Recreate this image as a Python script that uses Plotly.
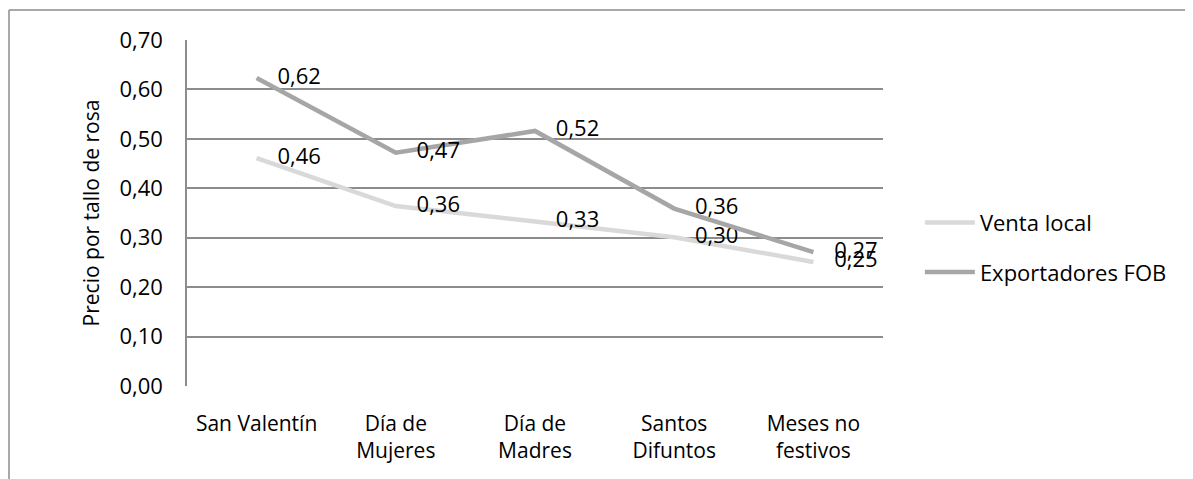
import plotly.graph_objects as go

categories = ["San Valentín", "Día de<br>Mujeres", "Día de<br>Madres", "Santos<br>Difuntos", "Meses no<br>festivos"]
venta_local = [0.461, 0.364, 0.333, 0.301, 0.251]
exportadores_fob = [0.623, 0.472, 0.516, 0.359, 0.271]
y_ticks = [0.0, 0.1, 0.2, 0.3, 0.4, 0.5, 0.6, 0.7]

FONT = "Open Sans"
# page body adds an 8px offset, so the figure is drawn 8px smaller
W, H = 1185, 471
L, R, T, B = 179, 310, 32, 93

fig = go.Figure()

series = [
    ("Venta local", venta_local, "#d9d9d9"),
    ("Exportadores FOB", exportadores_fob, "#a6a6a6"),
]
for name, vals, color in series:
    fig.add_trace(go.Scatter(
        x=categories,
        y=vals,
        name=name,
        legendgroup=name,
        mode="lines+text",
        line=dict(color=color, width=4.5),
        text=vals,
        texttemplate="   \u2009%{y:.2f}",
        textposition="middle right",
        textfont=dict(family=FONT, size=22, color="black"),
        cliponaxis=False,
    ))

# outer chart frame (only top and left edges visible in the original crop)
pw = W - L - R
ph = H - T - B
fig.add_shape(type="line", xref="paper", yref="paper",
              x0=(1 - L) / pw, x1=(W - L) / pw, y0=(H - 2 - B) / ph, y1=(H - 2 - B) / ph,
              line=dict(color="#8c8c8c", width=1.5))
fig.add_shape(type="line", xref="paper", yref="paper",
              x0=(1 - L) / pw, x1=(1 - L) / pw, y0=(H - 2 - B) / ph, y1=(0 - B) / ph,
              line=dict(color="#8c8c8c", width=1.5))

fig.update_layout(
    width=W,
    height=H,
    margin=dict(l=L, r=R, t=T, b=B),
    paper_bgcolor="white",
    plot_bgcolor="white",
    separators=",.",
    font=dict(family=FONT, size=22, color="black"),
    showlegend=True,
    legend=dict(
        x=1.053, y=0.40, xanchor="left", yanchor="middle",
        font=dict(family=FONT, size=22, color="black"),
        traceorder="grouped",
        tracegroupgap=18,
        itemwidth=50,
    ),
    xaxis=dict(
        type="category",
        range=[-0.5, 4.5],
        showgrid=False,
        showline=False,
        ticks="",
        automargin=False,
        ticklabelstandoff=23,
        tickfont=dict(family=FONT, size=21),
    ),
    yaxis=dict(
        range=[0, 0.7],
        tickvals=y_ticks,
        tickformat=".2f",
        showgrid=True,
        gridcolor="#8c8c8c",
        gridwidth=1.5,
        showline=True,
        linecolor="#8c8c8c",
        linewidth=1.5,
        zeroline=False,
        ticks="",
        automargin=False,
        ticklabelstandoff=18,
        tickfont=dict(family=FONT, size=22),
        title=dict(text="Precio por tallo de rosa", standoff=14,
                   font=dict(family=FONT, size=21)),
    ),
)

fig.write_html("out.html")
